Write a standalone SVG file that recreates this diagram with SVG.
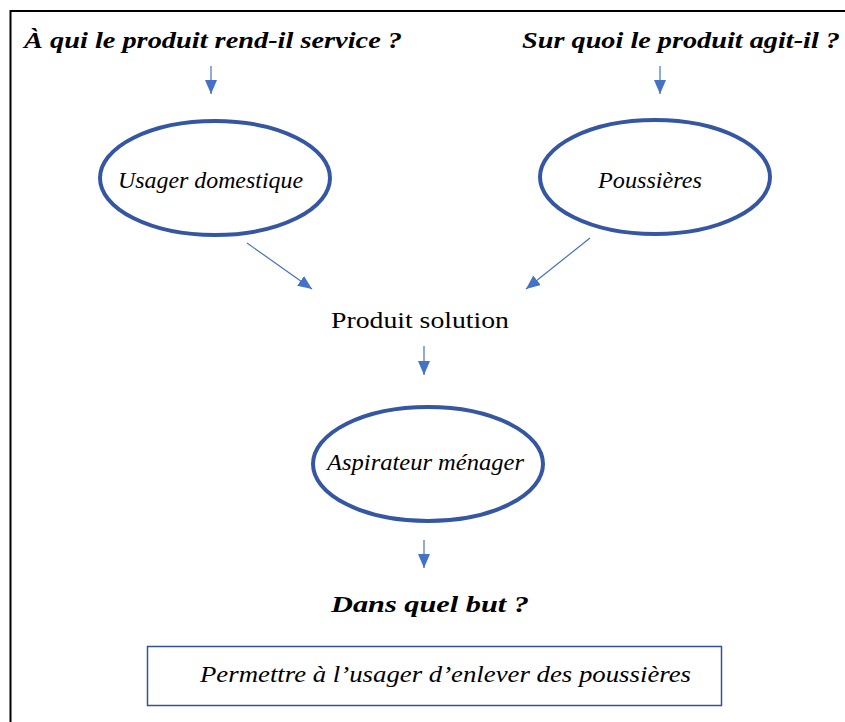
<svg xmlns="http://www.w3.org/2000/svg" width="845" height="722" viewBox="0 0 845 722">
<defs>
<style>
text{font-family:"Liberation Serif","DejaVu Serif",serif;fill:#000}
.q{font-weight:bold;font-style:italic;font-size:23px}
.it{font-style:italic;font-size:23px}
.rm{font-size:24px}
.ell{fill:#fff;stroke:#3557A3;stroke-width:4}
.con{stroke:#4472C4;stroke-width:1.2;fill:none}
</style>
<marker id="ah" viewBox="0 0 14 12" refX="14" refY="6" markerWidth="14" markerHeight="12" markerUnits="userSpaceOnUse" orient="auto">
<path d="M0,0 L14,6 L0,12 Z" fill="#4472C4"/>
</marker>
</defs>
<rect width="845" height="722" fill="#fff"/>
<path d="M10.5,722 V11 H845" fill="none" stroke="#000" stroke-width="2"/>
<g id="q1"><text class="q" x="24" y="48" textLength="378" lengthAdjust="spacingAndGlyphs">À qui le produit rend-il service ?</text></g>
<g id="q2"><text class="q" x="522" y="48" textLength="318" lengthAdjust="spacingAndGlyphs">Sur quoi le produit agit-il ?</text></g>
<g id="usager"><ellipse class="ell" cx="215" cy="178" rx="115" ry="57"/><text class="it" x="118" y="188" textLength="185" lengthAdjust="spacingAndGlyphs">Usager domestique</text></g>
<g id="poussieres"><ellipse class="ell" cx="655" cy="177" rx="115" ry="57"/><text class="it" x="598" y="188" textLength="104" lengthAdjust="spacingAndGlyphs">Poussières</text></g>
<g id="produit"><text class="rm" x="331" y="328" textLength="178" lengthAdjust="spacingAndGlyphs">Produit solution</text></g>
<g id="aspirateur"><ellipse class="ell" cx="428" cy="464" rx="115" ry="57"/><text class="it" x="327" y="470" textLength="197" lengthAdjust="spacingAndGlyphs">Aspirateur ménager</text></g>
<g id="but"><text class="q" x="331" y="612" textLength="198" lengthAdjust="spacingAndGlyphs">Dans quel but ?</text></g>
<g id="permettre"><rect x="147.5" y="646.5" width="574" height="59" fill="#fff" stroke="#2F5597" stroke-width="1.5"/><text class="it" x="200" y="682" textLength="491" lengthAdjust="spacingAndGlyphs">Permettre à l’usager d’enlever des poussières</text></g>
<g id="connectors">
<line class="con" x1="211" y1="66" x2="211" y2="94" marker-end="url(#ah)"/>
<line class="con" x1="660" y1="66" x2="660" y2="94" marker-end="url(#ah)"/>
<line class="con" x1="247" y1="243" x2="312" y2="289" marker-end="url(#ah)"/>
<line class="con" x1="590" y1="238" x2="526" y2="289" marker-end="url(#ah)"/>
<line class="con" x1="424" y1="346" x2="424" y2="375" marker-end="url(#ah)"/>
<line class="con" x1="424" y1="540" x2="424" y2="568" marker-end="url(#ah)"/>
</g>
</svg>
